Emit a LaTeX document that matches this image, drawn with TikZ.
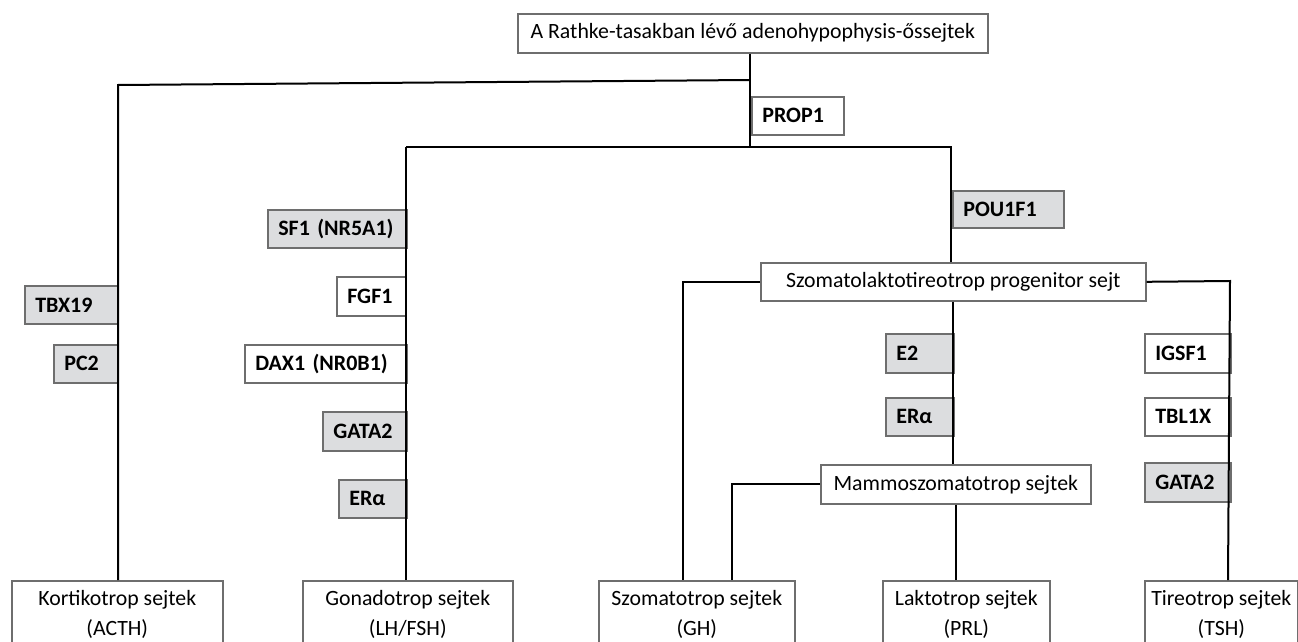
\documentclass[tikz,border=0pt]{standalone}
\usepackage{fontspec}
\setmainfont{Carlito}
\definecolor{boxgray}{RGB}{220,221,223}
\definecolor{edgegray}{RGB}{110,110,110}
\begin{document}
\begin{tikzpicture}[x=1pt,y=-1pt,
  box/.style={draw=edgegray, line width=1.6pt, fill=white, anchor=north west, inner sep=0pt,
    font=\fontsize{21.8}{30}\selectfont, align=center},
  lab/.style={draw=edgegray, line width=1.6pt, fill=white, anchor=north west, inner xsep=10.5pt,
    inner ysep=0pt, font=\bfseries\fontsize{22}{25}\selectfont, align=left},
  shaded/.style={fill=boxgray},
  link/.style={line width=2pt, black}]
\clip (0,0) rectangle (1298,642);
\fill[white] (0,0) rectangle (1298,642);
% main boxes
\node[box, minimum width=470pt, minimum height=39pt] (top) at (517,13) {A Rathke-tasakban lévő adenohypophysis-őssejtek};
\node[box, minimum width=385pt, minimum height=38pt] (szlt) at (760,262) {Szomatolaktotireotrop progenitor sejt};
\node[box, minimum width=270pt, minimum height=39pt] (mammo) at (820,464) {Mammoszomatotrop sejtek};
% bottom boxes
\node[box, minimum width=211pt, minimum height=68pt] (kort) at (11,580) {Kortikotrop sejtek\\(ACTH)};
\node[box, minimum width=210pt, minimum height=68pt] (gona) at (302,580) {Gonadotrop sejtek\\(LH/FSH)};
\node[box, minimum width=196pt, minimum height=68pt] (szom) at (598,580) {Szomatotrop sejtek\\(GH)};
\node[box, minimum width=167pt, minimum height=68pt] (lakt) at (882,580) {Laktotrop sejtek\\(PRL)};
\node[box, minimum width=153pt, minimum height=68pt] (tire) at (1144,580) {Tireotrop sejtek\\(TSH)};
% label boxes
\node[lab, text width=71pt, minimum height=38pt] (prop) at (751,96) {PROP1};
\node[lab, shaded, text width=90pt, minimum height=37pt] (pou) at (952,190) {POU1F1};
\node[lab, shaded, text width=72pt, minimum height=38pt] (tbx) at (24,285) {TBX19};
\node[lab, shaded, text width=43pt, minimum height=38pt] (pc) at (53,344) {PC2};
\node[lab, shaded, text width=118pt, minimum height=38pt] (sf) at (267,209) {SF1 (NR5A1)};
\node[lab, text width=48pt, minimum height=39pt] (fgf) at (336,276) {FGF1};
\node[lab, text width=141pt, minimum height=38pt] (dax) at (244,344) {DAX1 (NR0B1)};
\node[lab, shaded, text width=63pt, minimum height=39pt] (gataA) at (322,411) {GATA2};
\node[lab, shaded, text width=47pt, minimum height=38pt] (eraA) at (338,479) {ERα};
\node[lab, shaded, text width=47pt, minimum height=39pt] (e2) at (885,333) {E2};
\node[lab, shaded, text width=47pt, minimum height=38pt] (eraB) at (885,397) {ERα};
\node[lab, text width=65pt, minimum height=39pt] (igsf) at (1144,333) {IGSF1};
\node[lab, text width=65pt, minimum height=38pt] (tbl) at (1144,397) {TBL1X};
\node[lab, shaded, text width=65pt, minimum height=39pt] (gataB) at (1144,462) {GATA2};
% junctions
\coordinate (jA) at (750,80);
\coordinate (jL) at (118,85);
\coordinate (jB) at (750,147);
\coordinate (jG) at (406,147);
\coordinate (jP) at (951,147);
\coordinate (jT) at (1230,281);
\coordinate (jTb) at (1228,580);
% connectors
\draw[link] (top.south -| jA) -- (jB);
\draw[link] (jA) -- (jL) -- (jL |- kort.north);
\draw[link] (jG) -- (jP) -- (jP |- szlt.north);
\draw[link] (jG) -- (jG |- gona.north);
\draw[link] (szlt.west) -- ++(-77,0) coordinate (jS) -- (jS |- szom.north);
\draw[link] (szlt.east) -- (jT) -- (jTb |- tire.north);
\draw[link] (szlt.south) -- (szlt.south |- mammo.north);
\draw[link] (mammo.south) -- (mammo.south |- lakt.north);
\draw[link] (mammo.west) -- ++(-88,0) coordinate (jM) -- (jM |- szom.north);
\end{tikzpicture}
\end{document}
